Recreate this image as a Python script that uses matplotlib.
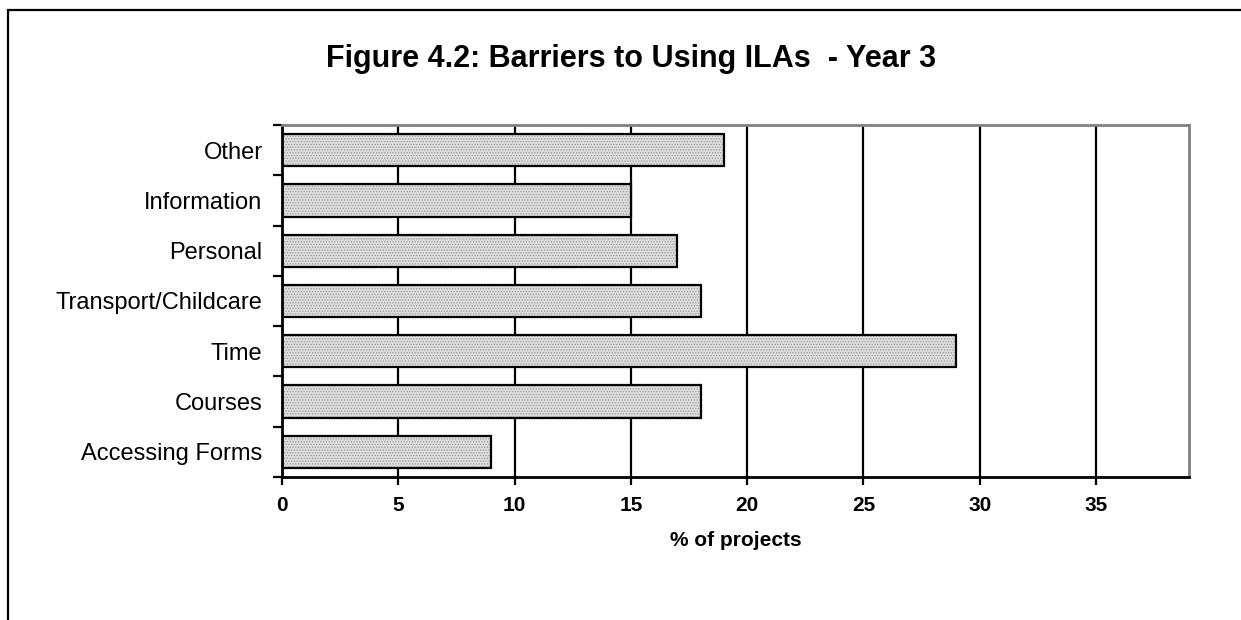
import numpy as np
import matplotlib.pyplot as plt
from matplotlib.patches import Rectangle

categories = ['Accessing Forms', 'Courses', 'Time', 'Transport/Childcare',
              'Personal', 'Information', 'Other']
values = [9, 18, 29, 18, 17, 15, 19]
x_ticks = [0, 5, 10, 15, 20, 25, 30, 35]

plt.rcParams['font.family'] = ['Liberation Sans', 'DejaVu Sans']
plt.rcParams['hatch.linewidth'] = 0.6

W, H = 1241, 620
fig = plt.figure(figsize=(W / 100, H / 100), dpi=100)
ax = fig.add_axes([282 / W, 1 - 477 / H, (1189 - 282) / W, (477 - 125) / H])

# outer frame, runs off the right and bottom edge like the source
fig.patches.append(Rectangle((8 / W, -0.2), 1.2, 1.2 - 10 / H,
                             transform=fig.transFigure, fill=False,
                             edgecolor='black', linewidth=1.6))

y = np.arange(len(categories))
ax.barh(y, values, height=0.64, color='#dddddd', edgecolor='#9a9a9a',
        hatch='......', linewidth=0, zorder=2)
ax.barh(y, values, height=0.64, fill=False, edgecolor='black',
        linewidth=1.6, zorder=3)

for xv in x_ticks[1:]:
    ax.axvline(xv, color='black', linewidth=1.6, zorder=1)

ax.set_xlim(0, 39)
ax.set_ylim(-0.5, len(categories) - 0.5)
ax.set_xticks(x_ticks)
ax.set_xticklabels([str(v) for v in x_ticks], fontsize=15, fontweight='bold')
ax.set_yticks(y)
ax.set_yticklabels(categories, fontsize=17)
ax.set_yticks(np.arange(len(categories) + 1) - 0.5, minor=True)
ax.tick_params(axis='y', which='major', length=0, pad=14)
ax.tick_params(axis='y', which='minor', length=6.5, width=1.6, direction='out')
ax.tick_params(axis='x', which='major', length=6, width=1.6, direction='out', pad=7.5)

for side in ['left', 'bottom']:
    ax.spines[side].set_color('black')
    ax.spines[side].set_linewidth(2)
for side in ['top', 'right']:
    ax.spines[side].set_color('#808080')
    ax.spines[side].set_linewidth(2)

ax.set_xlabel('% of projects', fontsize=15, fontweight='bold', va='center')
ax.xaxis.set_label_coords(0.5, -(540 - 477) / (477 - 125))
fig.text(631 / W, 1 - 67 / H, 'Figure 4.2: Barriers to Using ILAs  - Year 3',
         ha='center', va='baseline', fontsize=22, fontweight='bold')

fig.savefig('out.png', dpi=100)
